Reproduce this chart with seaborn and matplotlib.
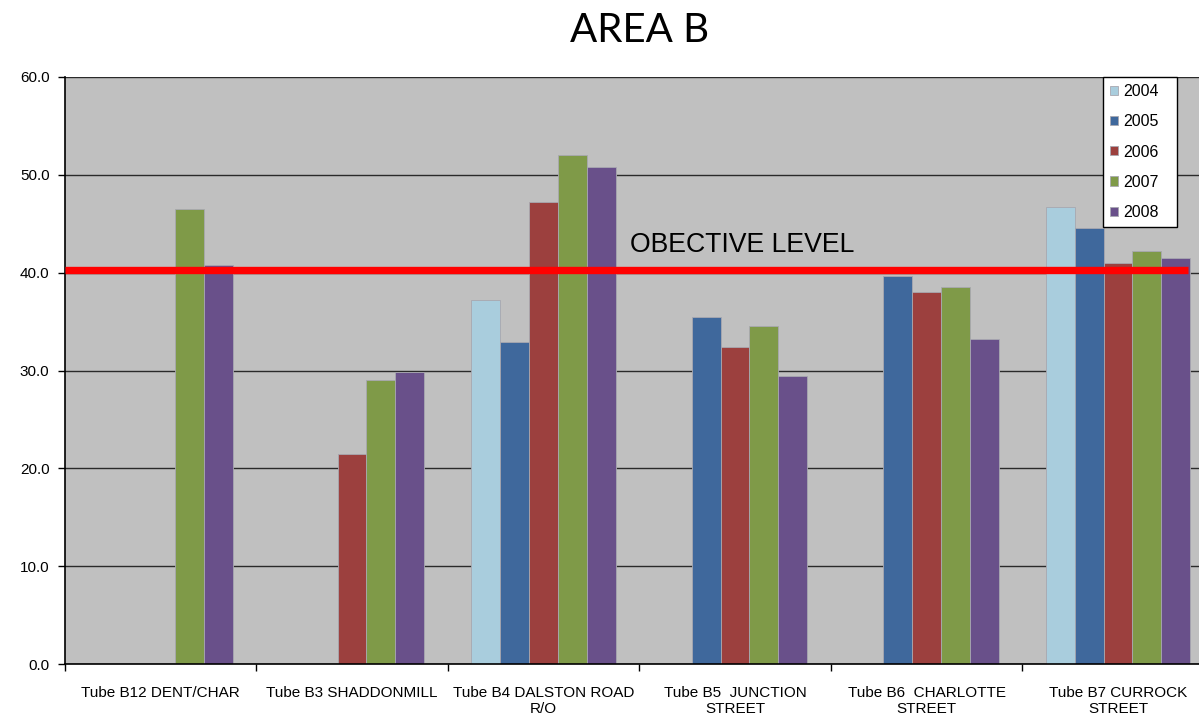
import matplotlib
matplotlib.use("Agg")
import matplotlib.pyplot as plt
import seaborn as sns
import numpy as np
import pandas as pd

categories = ["Tube B12 DENT/CHAR", "Tube B3 SHADDONMILL", "Tube B4 DALSTON ROAD\nR/O",
              "Tube B5  JUNCTION\nSTREET", "Tube B6  CHARLOTTE\nSTREET", "Tube B7 CURROCK\nSTREET"]
years = ["2004", "2005", "2006", "2007", "2008"]
v2004 = [np.nan, np.nan, 37.2, np.nan, np.nan, 46.7]
v2005 = [np.nan, np.nan, 32.9, 35.5, 39.7, 44.6]
v2006 = [np.nan, 21.5, 47.2, 32.4, 38.0, 41.0]
v2007 = [46.5, 29.0, 52.0, 34.5, 38.5, 42.2]
v2008 = [40.8, 29.8, 50.8, 29.4, 33.2, 41.5]
objective_level = 40.25
colors = ["#A9CDDD", "#3F689C", "#9C403E", "#7F9A48", "#69508A"]

rows = []
for y, vals in zip(years, [v2004, v2005, v2006, v2007, v2008]):
    for c, v in zip(categories, vals):
        rows.append({"site": c, "year": y, "value": v})
df = pd.DataFrame(rows).dropna()

sns.set_style("white")
plt.rcParams["font.family"] = ["Liberation Sans", "DejaVu Sans"]
plt.rcParams["text.color"] = "black"
plt.rcParams["xtick.color"] = "black"
plt.rcParams["ytick.color"] = "black"
plt.rcParams["axes.labelcolor"] = "black"

fig = plt.figure(figsize=(11.99, 7.2), dpi=100)
left = 64.75 / 1199
right = 1213.75 / 1199
bottom = (720 - 664) / 720
top = (720 - 77) / 720
ax = fig.add_axes([left, bottom, right - left, top - bottom])
ax.set_facecolor("#C0C0C0")

sns.barplot(data=df, x="site", y="value", hue="year", order=categories, hue_order=years,
            palette=colors, saturation=1, width=0.757, errorbar=None, ax=ax, zorder=2,
            edgecolor="#A8A8B0", linewidth=0.6)

ax.set_ylim(0, 60)
ax.set_xlim(-0.5, len(categories) - 0.5)
ax.set_yticks(np.arange(0, 61, 10))
ax.set_yticklabels([f"{t:.1f}" for t in np.arange(0, 61, 10)], fontsize=11)
ax.yaxis.grid(True, color="#2a2a2a", linewidth=1.0, zorder=1)
ax.set_axisbelow(True)
ax.tick_params(axis="y", direction="out", length=5, width=1, color="black", pad=6, left=True)
ax.tick_params(axis="x", length=0, labelsize=11, pad=16)
ax.set_xticks(np.arange(-0.5, len(categories) - 0.4, 1.0), minor=True)
ax.tick_params(axis="x", which="minor", direction="out", length=5, width=1, color="black", bottom=True)
ax.set_xlabel("")
ax.set_ylabel("")
for s in ["top", "right"]:
    ax.spines[s].set_visible(False)
ax.spines["left"].set_color("black")
ax.spines["left"].set_linewidth(1.2)
ax.spines["bottom"].set_color("black")
ax.spines["bottom"].set_linewidth(1.2)

ax.plot([-0.5, 5.366], [objective_level, objective_level], color="#FF0000", linewidth=5.3,
        zorder=5, solid_capstyle="butt")
ax.text(2.45, 42.8, "OBECTIVE LEVEL", fontsize=19.2, va="center", ha="left",
        family=["Liberation Sans"], zorder=6, color="black")

ax.set_title("AREA B", fontsize=29, family=["Lato", "DejaVu Sans"], pad=25, color="black")

axw = 1213.75 - 64.75
leg = ax.legend(loc="upper left",
                bbox_to_anchor=((1103 - 64.75) / axw, 0.0, 74 / axw, 1.0),
                mode="expand", borderaxespad=0, fontsize=11.5, frameon=True, fancybox=False,
                edgecolor="black", handlelength=0.5, handleheight=0.5, handletextpad=0.3,
                labelspacing=0.95, borderpad=0.45, framealpha=1)
leg.get_frame().set_linewidth(1.0)

fig.savefig("out.png", dpi=100)
